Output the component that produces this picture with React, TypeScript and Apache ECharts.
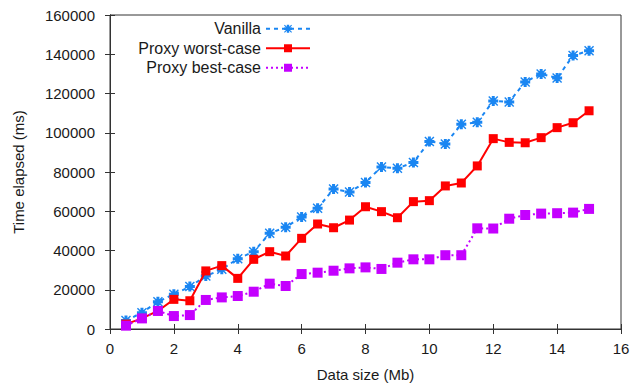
import React, { useEffect, useRef } from "react";
import * as echarts from "echarts";

const dataSizes = [0.5, 1, 1.5, 2, 2.5, 3, 3.5, 4, 4.5, 5, 5.5, 6, 6.5, 7, 7.5, 8, 8.5, 9, 9.5, 10, 10.5, 11, 11.5, 12, 12.5, 13, 13.5, 14, 14.5, 15];
const vanilla = [4300, 8300, 13900, 17700, 21600, 27000, 30400, 35800, 39400, 48800, 51800, 57100, 61500, 71300, 69800, 74700, 82600, 81900, 84800, 95600, 94300, 104300, 105300, 116200, 115700, 125900, 130000, 127900, 139300, 141800];
const worstCase = [2500, 5400, 9200, 15100, 14400, 29600, 32300, 25800, 35500, 39400, 37200, 46200, 53500, 51600, 55500, 62300, 59800, 56700, 64900, 65400, 72900, 74400, 83100, 97000, 95100, 94900, 97500, 102600, 105100, 111200];
const bestCase = [1700, 5400, 9200, 6600, 7100, 14800, 16100, 16800, 19000, 23100, 21900, 28000, 28700, 29700, 30900, 31400, 30600, 33800, 35500, 35500, 37600, 37600, 51300, 51200, 56200, 58100, 58800, 59000, 59300, 61200];
const seriesNames = ["Vanilla", "Proxy worst-case", "Proxy best-case"];
const xTitle = "Data size (Mb)";
const yTitle = "Time elapsed (ms)";

const FONT = "'Liberation Sans', Arial, Helvetica, sans-serif";
const TEXT = "#1a1a1a";
const FRAME = "#333";

const starPath =
  "path://M3.5,0H6.5V3.5H10V6.5H6.5V10H3.5V6.5H0V3.5H3.5Z M1,0L5,4L9,0L10,1L6,5L10,9L9,10L5,6L1,10L0,9L4,5L0,1Z";

export default function App() {
  const ref = useRef<HTMLDivElement>(null);
  useEffect(() => {
    if (!ref.current) return;
    const chart = echarts.init(ref.current, undefined, { renderer: "svg" });
    const pairs = (ys: number[]) => dataSizes.map((x, i) => [x, ys[i]]);
    const tickCommon = { show: true, inside: true, length: 5, lineStyle: { color: FRAME, width: 1 } };
    chart.setOption({
      animation: false,
      backgroundColor: "#fff",
      grid: { left: 110, right: 12, top: 15, bottom: 61, show: true, borderColor: FRAME, borderWidth: 1 },
      legend: {
        orient: "vertical",
        align: "right",
        right: 322,
        top: 19,
        padding: 0,
        itemGap: 0,
        itemWidth: 44,
        itemHeight: 10,
        data: seriesNames,
        textStyle: { fontFamily: FONT, fontSize: 16, color: TEXT, lineHeight: 19.5 },
      },
      xAxis: [
        {
          type: "value",
          min: 0,
          max: 16,
          interval: 2,
          name: xTitle,
          nameLocation: "middle",
          nameGap: 38,
          nameTextStyle: { fontFamily: FONT, fontSize: 15, color: TEXT },
          axisLine: { show: true, lineStyle: { color: FRAME, width: 1 } },
          axisTick: tickCommon,
          axisLabel: { fontFamily: FONT, fontSize: 15, color: TEXT, margin: 12 },
          splitLine: { show: false },
        },
        {
          type: "value",
          position: "top",
          min: 0,
          max: 16,
          interval: 2,
          axisLine: { show: true, lineStyle: { color: FRAME, width: 1 } },
          axisTick: tickCommon,
          axisLabel: { show: false },
          splitLine: { show: false },
        },
      ],
      yAxis: [
        {
          type: "value",
          min: 0,
          max: 160000,
          interval: 20000,
          name: yTitle,
          nameLocation: "middle",
          nameGap: 84,
          nameTextStyle: { fontFamily: FONT, fontSize: 15, color: TEXT },
          axisLine: { show: true, lineStyle: { color: FRAME, width: 1 } },
          axisTick: tickCommon,
          axisLabel: { fontFamily: FONT, fontSize: 15, color: TEXT, margin: 15, formatter: (v: number) => String(v) },
          splitLine: { show: false },
        },
        {
          type: "value",
          position: "right",
          min: 0,
          max: 160000,
          interval: 20000,
          axisLine: { show: true, lineStyle: { color: FRAME, width: 1 } },
          axisTick: tickCommon,
          axisLabel: { show: false },
          splitLine: { show: false },
        },
      ],
      series: [
        {
          name: seriesNames[0],
          type: "line",
          data: pairs(vanilla),
          symbol: starPath,
          symbolSize: 10,
          showAllSymbol: true,
          itemStyle: { color: "#1a86f2" },
          lineStyle: { color: "#1a86f2", width: 2, type: [4, 4] },
          z: 3,
        },
        {
          name: seriesNames[1],
          type: "line",
          data: pairs(worstCase),
          symbol: "rect",
          symbolSize: 9,
          showAllSymbol: true,
          itemStyle: { color: "#ff0000" },
          lineStyle: { color: "#ff0000", width: 2 },
          z: 4,
        },
        {
          name: seriesNames[2],
          type: "line",
          data: pairs(bestCase),
          symbol: "rect",
          symbolSize: 10,
          showAllSymbol: true,
          itemStyle: { color: "#c400ff" },
          lineStyle: { color: "#c400ff", width: 2, type: [2, 3] },
          z: 5,
        },
      ],
    });
    return () => chart.dispose();
  }, []);
  return (
    <div
      ref={ref}
      style={{ position: "absolute", left: 0, top: 0, width: 633, height: 390, background: "#fff" }}
    />
  );
}
